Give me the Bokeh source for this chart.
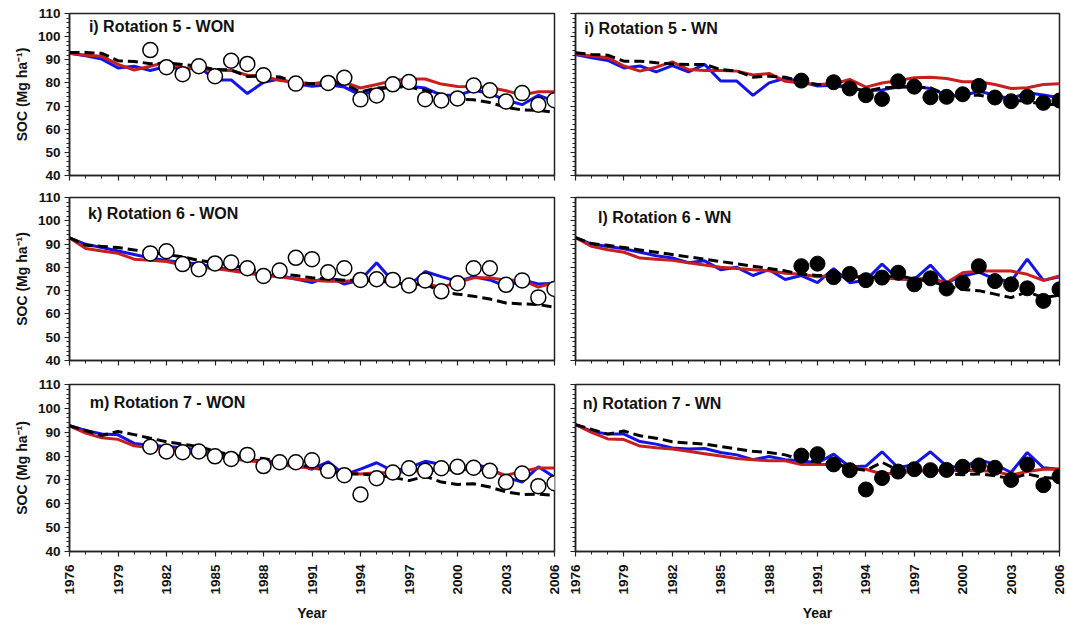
import math
from bokeh.plotting import figure
from bokeh.layouts import column, row
from bokeh.models import Label, FixedTicker, Range1d, CustomJSTickFormatter
from bokeh.embed import file_html
from bokeh.resources import INLINE

# ---------------- data ----------------
years = list(range(1976, 2007))
x_tick_years = years[::3]
y_major_ticks = [40, 50, 60, 70, 80, 90, 100, 110]
y_minor_ticks = list(range(40, 111, 2))

# i) Rotation 5 - WON
r5_won_blue = [92.8, 91.7, 90.3, 86.5, 87.2, 85.4, 87.2, 85.8, 87.2, 81.3, 81.3, 75.4, 80.3, 81.7, 79.6, 78.6,
               79.2, 78.2, 74.7, 76.8, 78.6, 78.6, 77.8, 74.7, 74.7, 76.8, 75.4, 72.6, 70.6, 74.7, 72.0]
r5_won_red = [92.8, 92.0, 91.5, 88.0, 85.6, 87.2, 89.0, 86.5, 85.8, 85.5, 85.4, 83.3, 83.0, 81.0, 80.3, 79.6,
              80.5, 80.3, 77.8, 79.3, 81.0, 81.7, 81.7, 79.5, 78.5, 78.3, 78.0, 76.6, 74.8, 76.2, 76.2]
r5_won_dash = [93.2, 93.2, 92.8, 89.6, 89.3, 88.3, 88.6, 88.0, 87.2, 85.8, 85.6, 82.8, 83.0, 82.6, 80.3, 79.6,
               80.3, 79.5, 76.1, 77.8, 78.2, 78.2, 76.8, 75.0, 73.1, 72.7, 71.5, 69.5, 68.3, 68.2, 67.3]
r5_won_obs_years = [1981, 1982, 1983, 1984, 1985, 1986, 1987, 1988, 1990, 1992, 1993, 1994, 1995, 1996, 1997,
                    1998, 1999, 2000, 2001, 2002, 2003, 2004, 2005, 2006]
r5_won_obs = [94.2, 86.8, 83.8, 87.2, 82.9, 89.6, 88.2, 83.3, 79.7, 80.0, 82.2, 72.9, 74.6, 79.4, 80.4, 73.0,
              72.4, 73.3, 78.9, 76.8, 72.0, 75.6, 70.6, 72.5]

# i) Rotation 5 - WN
r5_wn_blue = [92.3, 90.9, 89.7, 86.5, 87.3, 84.8, 87.5, 84.8, 88.0, 80.8, 80.8, 74.6, 80.0, 82.0, 80.5, 78.7,
              79.0, 77.7, 76.5, 77.0, 78.2, 78.5, 77.6, 74.6, 74.3, 76.5, 74.6, 73.2, 75.8, 74.8, 73.6]
r5_wn_red = [92.5, 91.6, 90.9, 87.3, 85.1, 86.8, 89.1, 85.8, 85.4, 85.4, 85.1, 83.4, 84.1, 80.7, 80.0, 79.3,
             79.6, 81.5, 78.2, 80.0, 81.0, 82.2, 82.5, 81.9, 80.5, 80.5, 79.3, 77.6, 77.9, 79.3, 79.6]
r5_wn_dash = [93.0, 92.3, 92.0, 89.4, 89.4, 88.7, 88.2, 88.0, 88.0, 85.8, 85.1, 82.5, 82.9, 82.5, 80.5, 79.3,
              79.3, 78.2, 76.4, 77.9, 78.2, 78.2, 77.9, 75.0, 74.7, 74.7, 73.5, 72.5, 72.1, 70.7, 70.7]
r5_wn_obs_years = [1990, 1992, 1993, 1994, 1995, 1996, 1997, 1998, 1999, 2000, 2001, 2002, 2003, 2004, 2005, 2006]
r5_wn_obs = [81.0, 80.3, 77.6, 74.7, 73.1, 80.7, 78.4, 73.8, 74.0, 75.1, 78.7, 73.7, 72.1, 74.0, 71.4, 72.4]

# k) Rotation 6 - WON
r6_won_blue = [92.7, 89.9, 88.5, 87.0, 85.5, 84.0, 83.0, 82.0, 81.5, 80.0, 79.0, 78.5, 76.5, 76.5, 75.0, 73.5,
               76.0, 72.8, 74.6, 82.0, 74.0, 72.1, 78.2, 76.0, 74.0, 76.0, 74.6, 71.8, 74.6, 72.9, 73.2]
r6_won_red = [92.7, 88.1, 87.0, 86.0, 83.5, 83.0, 82.5, 81.0, 80.0, 79.5, 78.5, 77.5, 76.5, 76.0, 75.0, 74.5,
              74.0, 74.0, 74.5, 74.0, 73.5, 72.5, 73.0, 71.5, 73.5, 75.5, 75.5, 74.5, 74.5, 71.5, 73.5]
r6_won_dash = [92.7, 89.5, 89.0, 88.5, 87.5, 86.5, 85.5, 84.5, 83.0, 82.0, 81.0, 79.5, 78.0, 77.0, 76.5, 75.5,
               75.0, 74.5, 74.5, 74.5, 73.5, 72.5, 73.0, 69.3, 68.5, 67.6, 66.4, 64.7, 64.3, 64.0, 62.9]
r6_won_obs_years = list(range(1981, 2007))
r6_won_obs = [86.0, 86.9, 81.4, 79.2, 81.7, 82.1, 79.6, 76.3, 78.6, 84.1, 83.5, 77.9, 79.6, 74.6, 74.9, 74.6,
              72.2, 74.4, 69.7, 73.2, 79.6, 79.6, 72.5, 74.4, 67.1, 70.7]

# l) Rotation 6 - WN
r6_wn_blue = [92.8, 90.0, 89.0, 88.0, 86.5, 85.0, 84.0, 82.0, 82.8, 79.0, 80.0, 76.5, 79.0, 74.8, 76.5, 73.4,
              79.5, 73.4, 74.5, 81.4, 75.0, 74.8, 81.0, 73.4, 76.2, 77.9, 74.9, 74.0, 83.5, 74.4, 76.0]
r6_wn_red = [92.8, 89.0, 87.6, 86.5, 84.0, 83.5, 83.0, 82.0, 81.0, 80.0, 79.5, 79.0, 78.5, 77.5, 77.0, 76.0,
             76.5, 76.0, 75.5, 75.5, 75.0, 75.0, 75.3, 73.4, 77.7, 78.4, 78.4, 78.4, 77.0, 74.4, 76.3]
r6_wn_dash = [92.8, 90.2, 89.5, 88.5, 87.5, 86.5, 85.5, 84.5, 83.5, 82.5, 81.5, 80.5, 79.5, 78.5, 77.0, 76.5,
              76.5, 76.0, 76.0, 75.5, 76.5, 75.0, 74.0, 72.0, 70.5, 70.0, 68.5, 67.0, 69.5, 67.0, 68.0]
r6_wn_obs_years = list(range(1990, 2007))
r6_wn_obs = [80.5, 81.6, 75.8, 77.2, 74.5, 75.6, 77.7, 72.7, 75.3, 70.9, 73.4, 80.5, 74.1, 72.7, 71.0, 65.6, 70.6]

# m) Rotation 7 - WON
r7_won_blue = [92.7, 90.7, 89.3, 88.9, 85.3, 84.5, 84.0, 83.5, 82.5, 81.0, 79.5, 78.5, 78.0, 77.5, 76.5, 74.5,
               77.6, 72.2, 74.5, 77.2, 73.8, 75.1, 77.8, 76.5, 72.7, 76.5, 75.1, 71.1, 69.1, 75.5, 71.1]
r7_won_red = [92.7, 89.6, 87.7, 87.0, 84.3, 83.5, 83.0, 82.0, 81.0, 80.0, 79.0, 78.0, 77.5, 76.5, 75.5, 75.0,
              74.0, 73.0, 72.5, 73.0, 73.0, 73.5, 74.0, 74.0, 74.5, 74.5, 74.0, 72.0, 73.5, 75.0, 75.0]
r7_won_dash = [92.7, 90.7, 88.6, 90.3, 89.0, 87.5, 86.0, 85.0, 84.0, 82.0, 80.5, 79.5, 79.0, 77.5, 76.5, 75.5,
               74.0, 72.5, 72.5, 72.0, 71.1, 69.7, 71.5, 69.1, 68.1, 68.4, 67.0, 65.0, 63.9, 64.0, 63.6]
r7_won_obs_years = list(range(1981, 2007))
r7_won_obs = [83.9, 81.9, 81.6, 81.9, 79.9, 78.8, 80.5, 75.8, 77.4, 77.4, 78.2, 73.8, 72.0, 63.9, 70.7, 73.1,
              74.9, 73.8, 74.9, 75.5, 75.1, 73.8, 69.1, 72.7, 67.4, 68.6]

# n) Rotation 7 - WN
r7_wn_blue = [93.2, 90.4, 89.2, 89.2, 86.1, 85.0, 83.4, 83.0, 83.2, 81.5, 80.5, 78.5, 79.8, 78.5, 78.0, 77.1,
              80.8, 75.4, 75.8, 81.8, 75.1, 76.5, 81.8, 75.8, 75.1, 78.5, 76.5, 73.1, 81.5, 75.1, 74.5]
r7_wn_red = [93.2, 89.9, 87.2, 86.9, 84.2, 83.5, 83.0, 82.0, 81.0, 80.0, 79.0, 78.5, 78.0, 78.0, 76.5, 76.5,
             76.5, 75.5, 74.5, 72.5, 73.0, 73.5, 74.0, 74.0, 74.0, 74.0, 73.5, 72.0, 73.5, 74.5, 74.5]
r7_wn_dash = [93.2, 91.2, 89.2, 90.5, 88.5, 87.5, 86.0, 85.5, 85.0, 84.0, 83.0, 82.0, 81.5, 80.5, 78.5, 77.5,
              77.0, 75.0, 74.0, 77.4, 74.0, 73.5, 74.5, 72.5, 72.2, 72.5, 71.8, 70.5, 72.5, 71.0, 70.5]
r7_wn_obs_years = list(range(1990, 2007))
r7_wn_obs = [80.2, 80.8, 76.5, 74.1, 66.0, 70.8, 73.5, 74.5, 74.1, 74.2, 75.5, 76.1, 75.1, 70.0, 76.5, 67.8, 71.5]

titles = ["i) Rotation 5 - WON", "i) Rotation 5 - WN",
          "k) Rotation 6 - WON", "l) Rotation 6 - WN",
          "m) Rotation 7 - WON", "n) Rotation 7 - WN"]

# ---------------- style ----------------
FONT = "Liberation Sans"
BLUE = "#1414e6"
RED = "#c81e1e"

panels = [
    # title, blue, red, dash, obs_years, obs, filled, col, rowidx, title_x, title_y
    (titles[0], r5_won_blue, r5_won_red, r5_won_dash, r5_won_obs_years, r5_won_obs, False, 0, 0, 1977.2, 104.5),
    (titles[1], r5_wn_blue, r5_wn_red, r5_wn_dash, r5_wn_obs_years, r5_wn_obs, True, 1, 0, 1976.55, 103.7),
    (titles[2], r6_won_blue, r6_won_red, r6_won_dash, r6_won_obs_years, r6_won_obs, False, 0, 1, 1977.15, 103.2),
    (titles[3], r6_wn_blue, r6_wn_red, r6_wn_dash, r6_wn_obs_years, r6_wn_obs, True, 1, 1, 1977.4, 101.5),
    (titles[4], r7_won_blue, r7_won_red, r7_won_dash, r7_won_obs_years, r7_won_obs, False, 0, 2, 1977.25, 102.3),
    (titles[5], r7_wn_blue, r7_wn_red, r7_wn_dash, r7_wn_obs_years, r7_wn_obs, True, 1, 2, 1976.45, 102.0),
]

col_geom = [dict(width=564, left=69, right=10), dict(width=503, left=11, right=8)]
row_heights = [190, 182, 251]
borders_tb = {(0, 0): (13, 12), (1, 0): (12, 15),
              (0, 1): (7, 10), (1, 1): (6, 12),
              (0, 2): (12, 66), (1, 2): (11, 66)}

blank = CustomJSTickFormatter(code="return ''")

figs = {}
for (title, blue, red, dash, oy, ov, filled, c, r, tx, ty) in panels:
    g = col_geom[c]
    top, bot = borders_tb[(c, r)]
    p = figure(width=g["width"], height=row_heights[r], output_backend="svg", toolbar_location=None,
               x_range=Range1d(1976, 2006), y_range=Range1d(40, 110),
               min_border_left=g["left"], min_border_right=g["right"],
               min_border_top=top, min_border_bottom=bot)
    p.xgrid.visible = False
    p.ygrid.visible = False
    p.outline_line_color = "#222222"
    p.outline_line_width = 1.5
    p.background_fill_color = "white"
    p.border_fill_color = "white"

    p.xaxis.ticker = FixedTicker(ticks=x_tick_years, minor_ticks=years)
    p.yaxis.ticker = FixedTicker(ticks=y_major_ticks, minor_ticks=y_minor_ticks)
    for ax in (p.xaxis[0], p.yaxis[0]):
        ax.axis_line_color = "#222222"
        ax.axis_line_width = 1.5
        ax.major_tick_line_color = "#222222"
        ax.minor_tick_line_color = "#222222"
        ax.major_tick_line_width = 1.2
        ax.minor_tick_line_width = 1.0
        ax.major_tick_in = 0
        ax.major_tick_out = 5
        ax.minor_tick_in = 0
        ax.minor_tick_out = 3
        ax.major_label_text_font = FONT
        ax.major_label_text_font_style = "bold"
        ax.major_label_text_font_size = "13.5px"
        ax.major_label_text_color = "#111111"
        ax.axis_label_text_font = FONT
        ax.axis_label_text_font_style = "bold"
        ax.axis_label_text_font_size = "14px"
        ax.axis_label_text_color = "#111111"

    # y axis
    if c == 0:
        p.yaxis.axis_label = "SOC (Mg ha\u207b\u00b9)"
        p.yaxis.major_label_standoff = 4
        p.yaxis.axis_label_standoff = 5
    else:
        p.yaxis.formatter = blank
        p.yaxis.major_label_standoff = 0
    # x axis
    if r == 2:
        p.xaxis.major_label_orientation = math.pi / 2
        p.xaxis.major_label_standoff = 8
        p.xaxis.axis_label = "Year"
        p.xaxis.axis_label_standoff = 7
    else:
        p.xaxis.formatter = blank
        p.xaxis.major_label_standoff = 0

    p.line(years, blue, line_color=BLUE, line_width=3)
    p.line(years, red, line_color=RED, line_width=3)
    p.line(years, dash, line_color="black", line_width=3, line_dash="10 5")
    if filled:
        p.scatter(oy, ov, size=15, fill_color="black", line_color="black", line_width=1)
    else:
        p.scatter(oy, ov, size=15, fill_color="white", line_color="black", line_width=1.5)

    p.add_layout(Label(x=tx, y=ty, x_units="data", y_units="data", text=title,
                       text_font=FONT, text_font_style="bold", text_font_size="16px",
                       text_color="#111111", text_baseline="middle", text_align="left"))
    figs[(c, r)] = p

layout = column(
    row(figs[(0, 0)], figs[(1, 0)]),
    row(figs[(0, 1)], figs[(1, 1)]),
    row(figs[(0, 2)], figs[(1, 2)]),
)

open("out.html", "w").write(file_html(layout, INLINE))
